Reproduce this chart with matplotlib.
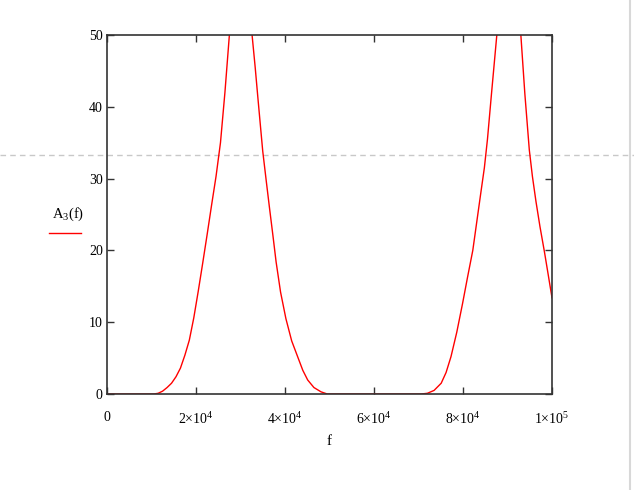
import matplotlib
matplotlib.use("Agg")
import matplotlib.pyplot as plt
from matplotlib.lines import Line2D

# Data (f in Hz, A3 values)
f_vals = [0, 5000, 10000, 10500, 11500, 12500, 13500, 14500, 15500, 16500, 17500,
          18500, 19500, 20500, 21500, 22500, 23500, 24500, 25500, 26500, 27500,
          28700, 30000, 31400, 32600, 33300, 33900, 34500, 35000, 35800, 36500,
          37300, 38000, 39000, 40200, 41500, 42900, 44000, 45100, 46500, 48100,
          49500, 55000, 60000, 65000, 70600, 72000, 73500, 75100, 76200, 77300,
          78600, 79900, 81000, 82200, 83100, 84000, 84800, 85500, 86400, 87600,
          88800, 90300, 91800, 93000, 93900, 94900, 95600, 96400, 97300, 98300,
          99100, 100000]
a3_vals = [0, 0, 0, 0, 0.1, 0.4, 0.9, 1.5, 2.4, 3.6, 5.4,
           7.5, 10.6, 14.3, 18.2, 22.2, 26.3, 30.3, 35.0, 42.0, 50.0,
           58.0, 62.0, 58.0, 50.0, 45.5, 41.3, 37.2, 33.8, 29.6, 26.0,
           22.0, 18.4, 14.2, 10.5, 7.4, 5.1, 3.3, 1.95, 0.9, 0.3,
           0, 0, 0, 0, 0, 0.1, 0.5, 1.5, 3.0, 5.2,
           8.6, 12.6, 16.2, 20.0, 24.0, 28.0, 31.5, 35.5, 41.8, 50.0,
           58.0, 62.0, 58.0, 50.0, 41.8, 34.0, 30.3, 26.8, 23.3, 19.8,
           16.8, 13.4]

x_ticks = [0, 20000, 40000, 60000, 80000, 100000]
x_tick_labels = ["0", r"2$\times$10$^{4}$", r"4$\times$10$^{4}$",
                 r"6$\times$10$^{4}$", r"8$\times$10$^{4}$", r"1$\times$10$^{5}$"]
y_ticks = [0, 10, 20, 30, 40, 50]
y_tick_labels = ["0", "10", "20", "30", "40", "50"]

plt.rcParams['font.family'] = ['Liberation Serif', 'DejaVu Serif']
plt.rcParams['mathtext.fontset'] = 'custom'
plt.rcParams['mathtext.rm'] = 'Liberation Serif'
plt.rcParams['mathtext.it'] = 'Liberation Serif:italic'

W, H = 634, 490
fig = plt.figure(figsize=(W / 100, H / 100), dpi=100)
fig.patch.set_facecolor('white')

left, right, top, bottom = 107, 552, 35, 394
ax = fig.add_axes([left / W, 1 - bottom / H, (right - left) / W, (bottom - top) / H])
ax.patch.set_alpha(0.0)
ax.plot(f_vals, a3_vals, color='#ff0000', lw=1.0, solid_joinstyle='round')
ax.set_xlim(0, 100000)
ax.set_ylim(0, 50)

ax.set_xticks(x_ticks)
ax.set_xticklabels(x_tick_labels, fontsize=10)
ax.set_yticks(y_ticks)
ax.set_yticklabels(y_tick_labels, fontsize=10)
ax.tick_params(axis='both', direction='in', length=5, width=1.0, color='#333333',
               top=True, right=True)
ax.tick_params(axis='x', pad=12)
ax.tick_params(axis='y', pad=3)
for s in ax.spines.values():
    s.set_color('#333333')
    s.set_linewidth(1.2)

ax.set_xlabel("f", fontsize=11, labelpad=6)

# Legend-like label on the left
fig.text(68 / W, 1 - 214 / H, r"A$_{3}$(f)", fontsize=10.5, ha='center', va='center')
fig.add_artist(Line2D([49 / W, 81 / W], [1 - 233 / H, 1 - 233 / H],
                      color='#ff0000', lw=1.0, transform=fig.transFigure))

# Background page decorations
fig.add_artist(Line2D([0, 1], [1 - 155 / H, 1 - 155 / H], color='#c8c8c8', lw=1.0,
                      linestyle=(0, (4, 3)), transform=fig.transFigure, zorder=0))
fig.add_artist(Line2D([630 / W, 630 / W], [0, 1], color='#d8d8d8', lw=1.5,
                      transform=fig.transFigure, zorder=0))

fig.savefig("out.png", dpi=100, facecolor='white')
